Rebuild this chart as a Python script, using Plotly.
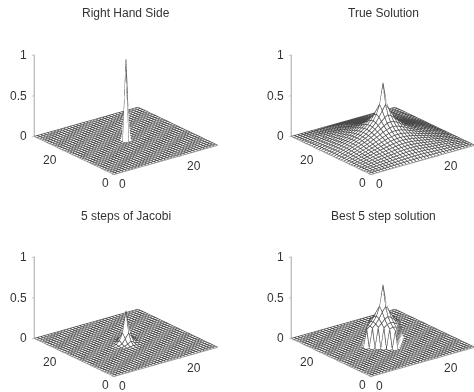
import math
import plotly.graph_objects as go

# Quarter tables of heights, indexed by distance from the centre of the grid
grid = list(range(33))
centre = 16
rhs_quarter = [[1.0]]
true_quarter = [
 [.710,.460,.348,.278,.233,.197,.168,.144,.125,.107,.090,.075,.060,.045,.030,.015,0],
 [.460,.393,.325,.270,.228,.194,.166,.142,.123,.105,.089,.074,.059,.044,.030,.015,0],
 [.348,.325,.287,.249,.215,.185,.160,.138,.119,.102,.086,.072,.057,.043,.029,.014,0],
 [.278,.270,.249,.223,.197,.172,.151,.131,.113,.097,.082,.068,.054,.041,.027,.014,0],
 [.233,.228,.215,.197,.178,.158,.139,.121,.105,.090,.076,.063,.050,.038,.025,.013,0],
 [.197,.194,.185,.172,.158,.142,.126,.110,.096,.083,.070,.058,.046,.035,.023,.012,0],
 [.168,.166,.160,.151,.139,.126,.112,.100,.088,.076,.064,.053,.042,.032,.021,.011,0],
 [.144,.142,.138,.131,.121,.110,.100,.088,.080,.069,.058,.048,.038,.029,.019,.010,0],
 [.125,.123,.119,.113,.105,.096,.088,.080,.072,.063,.053,.044,.035,.026,.017,.009,0],
 [.107,.105,.102,.097,.090,.083,.076,.069,.063,.056,.047,.039,.031,.023,.015,.008,0],
 [.090,.089,.086,.082,.076,.070,.064,.058,.053,.047,.042,.035,.028,.021,.014,.007,0],
 [.075,.074,.072,.068,.063,.058,.053,.048,.044,.039,.035,.030,.024,.018,.012,.006,0],
 [.060,.059,.057,.054,.050,.046,.042,.038,.035,.031,.028,.024,.020,.015,.010,.005,0],
 [.045,.044,.043,.041,.038,.035,.032,.029,.026,.023,.021,.018,.015,.012,.008,.004,0],
 [.030,.030,.029,.027,.025,.023,.021,.019,.017,.015,.014,.012,.010,.008,.005,.003,0],
 [.015,.015,.014,.014,.013,.012,.011,.010,.009,.008,.007,.006,.005,.004,.003,.001,0],
 [0]*17,
]
jacobi_quarter = [
 [.390,.135,.050,.012,.002],
 [.135,.075,.022,.006],
 [.050,.022,.008],
 [.012,.006],
 [.002],
]
best_quarter = [
 [.71,.46,.35,.29,.25,.22],
 [.46,.40,.33,.28,.24],
 [.35,.33,.29,.25],
 [.29,.28,.25],
 [.25,.24],
 [.22],
]
titles = ["Right Hand Side", "True Solution", "5 steps of Jacobi", "Best 5 step solution"]
quarters = [rhs_quarter, true_quarter, jacobi_quarter, best_quarter]
x_ticks = [0, 20]
y_ticks = [0, 20]
z_ticks = [0, 0.5, 1]
z_tick_text = ["0", "0.5", "1"]

def mirrored(q):
    out = []
    for j in grid:
        row = []
        for i in grid:
            a, b = abs(j - centre), abs(i - centre)
            row.append(q[a][b] if a < len(q) and b < len(q[a]) else 0)
        out.append(row)
    return out

def mesh_lines(z):
    xs, ys, zs = [], [], []
    for j in grid:
        for i in grid:
            xs.append(i); ys.append(j); zs.append(z[j][i])
        xs.append(None); ys.append(None); zs.append(None)
    for i in grid:
        for j in grid:
            xs.append(i); ys.append(j); zs.append(z[j][i])
        xs.append(None); ys.append(None); zs.append(None)
    return xs, ys, zs

W, H = 474, 392
FONT = "Liberation Sans"
INK = "#333333"
AX = "#999999"
# px-placement of each panel: centre of the 3-D box in page pixels
box_centres = [(126, 100), (383, 100), (126, 302), (383, 302)]
domains = [([0, .5], [.5, 1]), ([.5, 1], [.5, 1]), ([0, .5], [0, .5]), ([.5, 1], [0, .5])]
title_xy = [(126, 13.5), (383.5, 13.5), (126, 216), (383, 216)]

AZ, EL = math.radians(37.5), math.radians(21.5)
E = (-math.sin(AZ) * math.cos(EL), -math.cos(AZ) * math.cos(EL), math.sin(EL))
R = (math.cos(AZ), -math.sin(AZ), 0)
U = (math.sin(EL) * math.sin(AZ), math.sin(EL) * math.cos(AZ), math.cos(EL))
DIST = 3
PX_PER_UNIT = 98.0
ASPECT = 1.336
SURFACE_DROP = 0.006

fig = go.Figure()
for k, (q, dom, bc) in enumerate(zip(quarters, domains, box_centres)):
    name = "scene" if k == 0 else f"scene{k+1}"
    z = mirrored(q)
    fig.add_trace(go.Surface(
        x=grid, y=grid, z=[[v - SURFACE_DROP for v in row] for row in z], scene=name, showscale=False,
        colorscale=[[0, "white"], [1, "white"]], hoverinfo="skip",
        lighting=dict(ambient=1, diffuse=0, specular=0, roughness=1, fresnel=0),
    ))
    xs, ys, zs = mesh_lines(z)
    fig.add_trace(go.Scatter3d(x=xs, y=ys, z=zs, scene=name, mode="lines", hoverinfo="skip",
                               line=dict(color="#4a4a4a", width=1.5), connectgaps=False))
    dcx = (dom[0][0] + dom[0][1]) / 2 * W
    dcy = (1 - (dom[1][0] + dom[1][1]) / 2) * H
    sx = (bc[0] - dcx) / PX_PER_UNIT
    sy = (dcy - bc[1]) / PX_PER_UNIT
    C = [-sx * R[i] - sy * U[i] for i in range(3)]
    eye = [C[i] + DIST * E[i] for i in range(3)]
    axis = dict(showbackground=False, showgrid=False, zeroline=False, showline=True,
                linecolor=AX, linewidth=2, ticks="inside", ticklen=3, tickcolor=AX,
                showspikes=False, title=dict(text=""), showticklabels=False)
    f = dict(family=FONT, size=12, color=INK)
    notes = []
    for v, s in zip(z_ticks, z_tick_text):
        notes.append(dict(x=0, y=32, z=v, text=s, showarrow=False, xanchor="right", yanchor="middle",
                          xshift=-5, font=f))
    for v in x_ticks:
        off = (9, -10) if v == 0 else (15, -10)
        notes.append(dict(x=v, y=0, z=0, text=str(v), showarrow=False, xanchor="center", yanchor="middle",
                          xshift=off[0], yshift=off[1], font=f))
    for v in y_ticks:
        off = (-8, -9) if v == 0 else (-14, -9)
        notes.append(dict(x=0, y=v, z=0, text=str(v), showarrow=False, xanchor="center", yanchor="middle",
                          xshift=off[0], yshift=off[1], font=f))
    fig.update_layout({name: dict(
        domain=dict(x=dom[0], y=dom[1]),
        aspectmode="manual", aspectratio=dict(x=ASPECT, y=ASPECT, z=0.67 * ASPECT),
        camera=dict(projection=dict(type="orthographic"), up=dict(x=0, y=0, z=1),
                    center=dict(x=C[0], y=C[1], z=C[2]),
                    eye=dict(x=eye[0], y=eye[1], z=eye[2])),
        xaxis=dict(axis, range=[0, 32], tickvals=x_ticks),
        yaxis=dict(axis, range=[0, 32], tickvals=y_ticks),
        zaxis=dict(axis, range=[0, 1], tickvals=z_ticks),
        annotations=notes,
    )})
    fig.add_annotation(x=title_xy[k][0] / W, y=1 - title_xy[k][1] / H, xref="paper", yref="paper",
                       text=titles[k], showarrow=False, xanchor="center", yanchor="middle",
                       font=dict(family=FONT, size=12, color=INK))

fig.update_layout(width=W, height=H, margin=dict(l=0, r=0, t=0, b=0),
                  paper_bgcolor="white", showlegend=False)
fig.write_html("out.html", config=dict(displayModeBar=False),
               post_script="document.body.style.margin='0';")
